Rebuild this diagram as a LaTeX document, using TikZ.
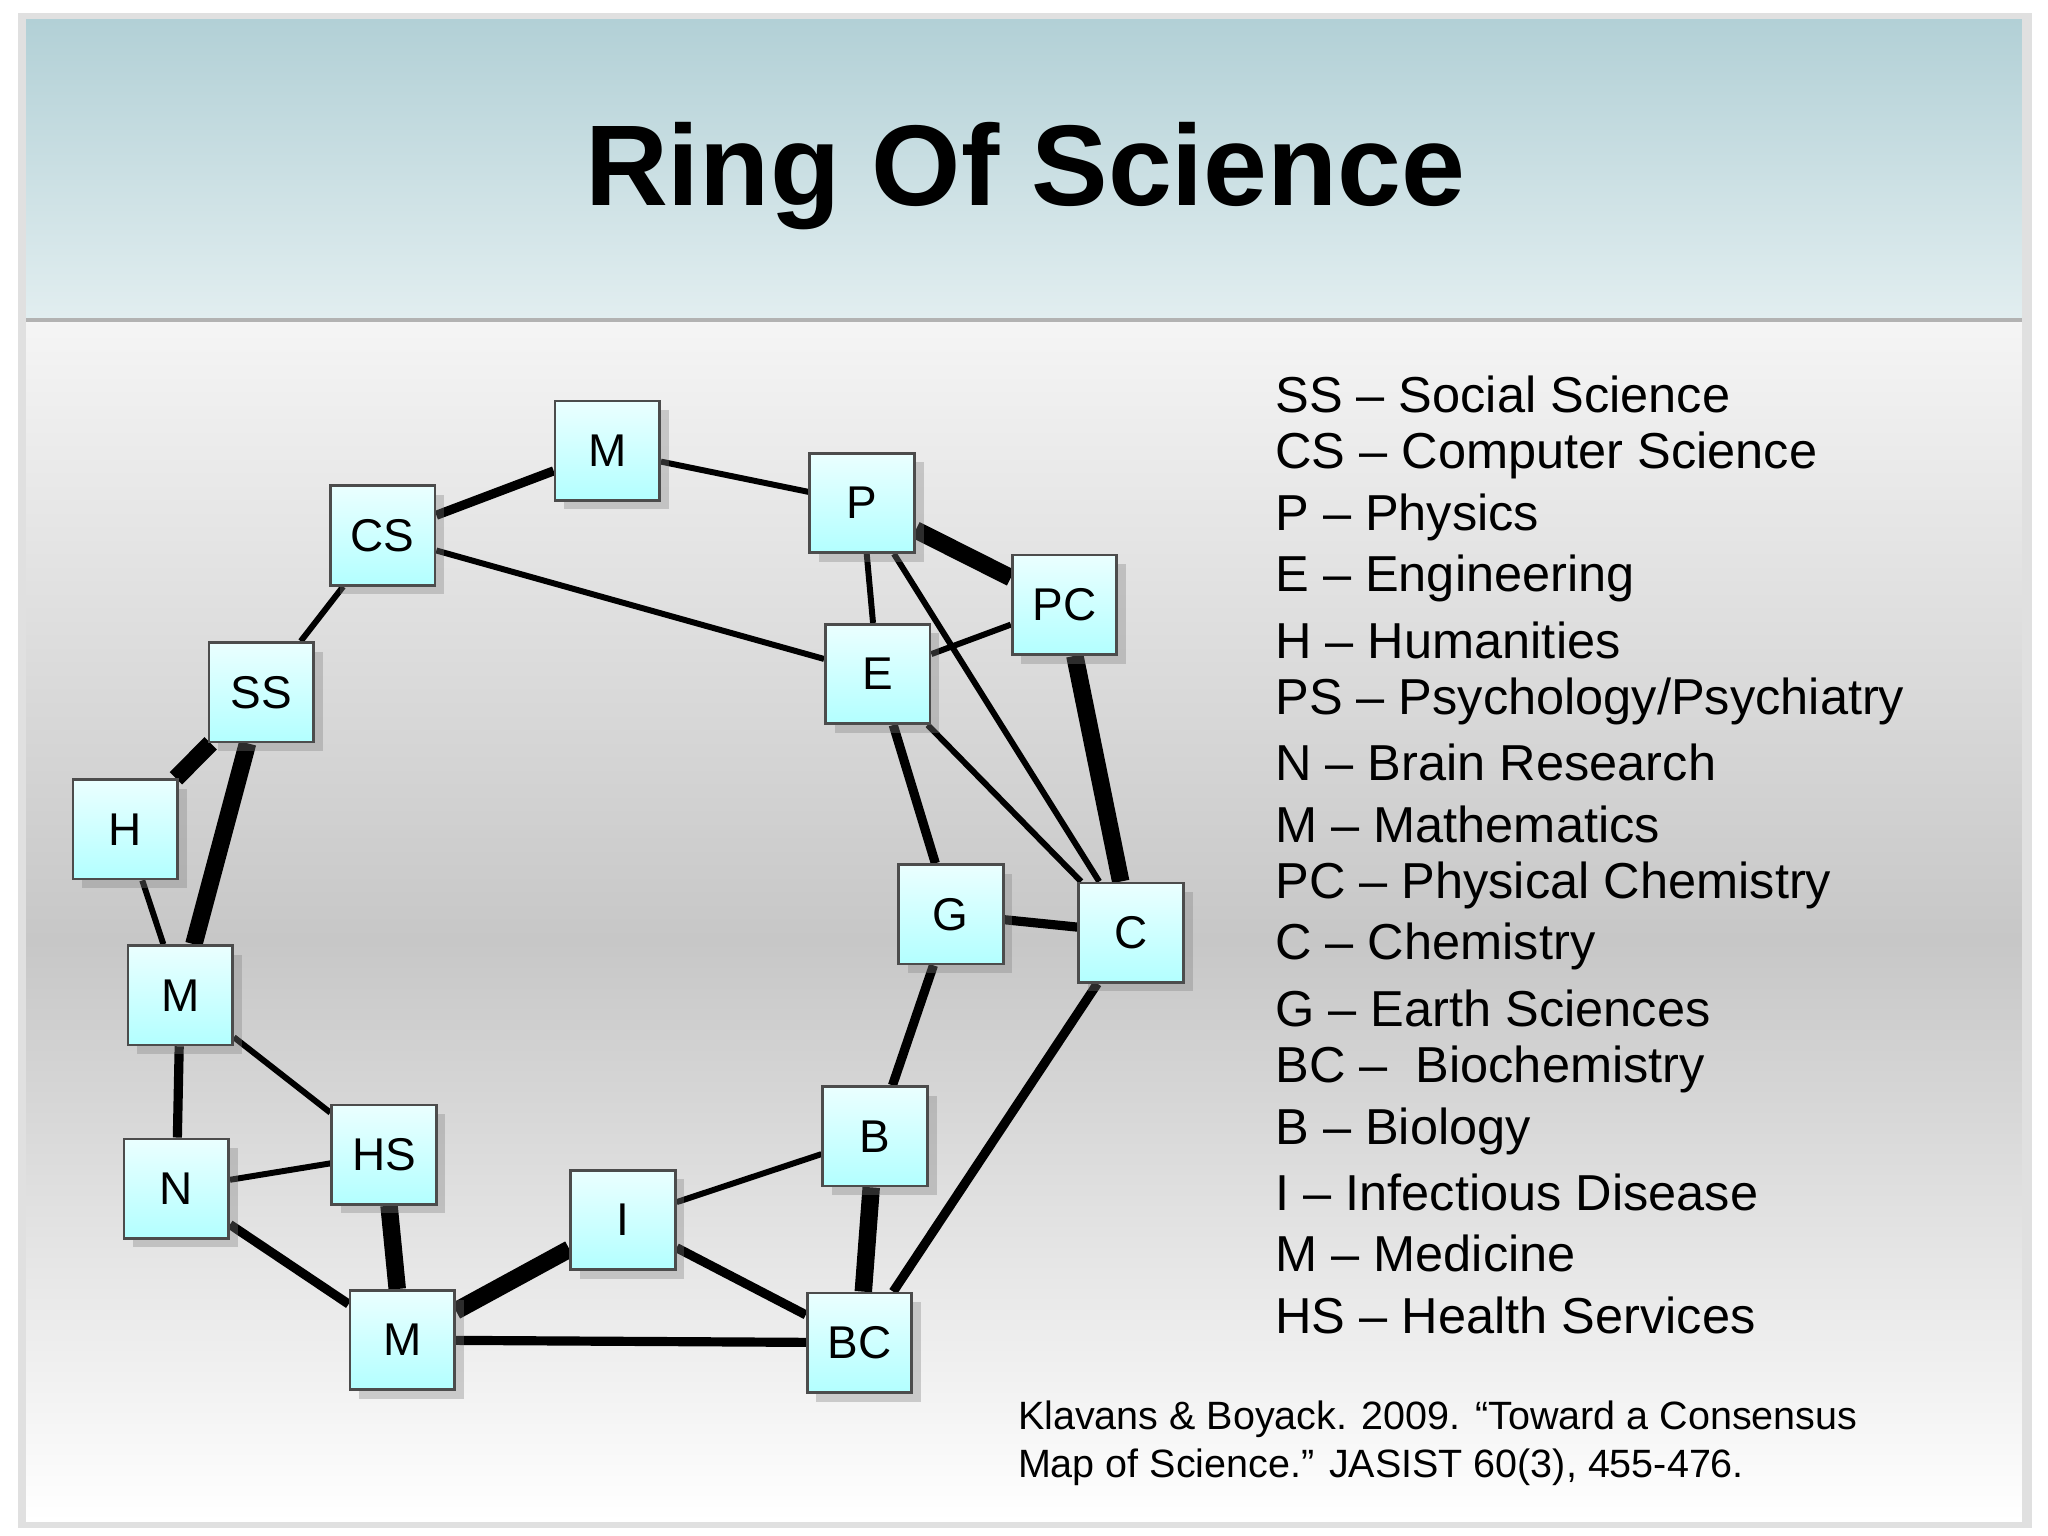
\documentclass[tikz,border=0pt]{standalone}
\usepackage{fontspec}
\setmainfont{Liberation Sans}
\usetikzlibrary{shadows}
\definecolor{hdtop}{RGB}{178,208,214}
\definecolor{hdbot}{RGB}{226,238,240}
\pgfdeclarelayer{bgl}\pgfdeclarelayer{edl}
\pgfsetlayers{bgl,edl,main}
\begin{document}
\begin{tikzpicture}[x=0.01cm,y=-0.01cm,
  box/.style={draw=black!70,line width=0.6pt,top color=cyan!8,bottom color=cyan!30,minimum width=0.8cm,minimum height=0.76cm,font=\fontsize{10}{12}\selectfont,drop shadow={opacity=0.35,shadow xshift=2pt,shadow yshift=-2pt}},
  thin/.style={line width=1.3pt},
  med/.style={line width=2pt},
  thick/.style={line width=3.8pt},
  leg/.style={anchor=west,font=\fontsize{11}{13}\selectfont}]
\useasboundingbox (0,0) rectangle (1568,1176);
\begin{pgfonlayer}{bgl}
\fill[white] (0,0) rectangle (1568,1176);
\fill[black!12] (14,10) rectangle (1556,1170);
\shade[top color=black!4,bottom color=black!22] (20,245) rectangle (1548,720);
\shade[top color=black!22,bottom color=white] (20,720) rectangle (1548,1165);
\shade[top color=hdtop,bottom color=hdbot] (20,15) rectangle (1548,245);
\draw[black!30,line width=1pt] (20,245) -- (1548,245);
\end{pgfonlayer}
\node[font=\fontsize{25}{30}\selectfont\bfseries] (title) at (785,135) {Ring Of Science};
\node[box] (Mt) at (465,345) {M};
\node[box] (P) at (660,385) {P};
\node[box] (PC) at (815,463) {PC};
\node[box] (CS) at (293,410) {CS};
\node[box] (E) at (672,516) {E};
\node[box] (SS) at (200,530) {SS};
\node[box] (H) at (96,635) {H};
\node[box] (G) at (728,700) {G};
\node[box] (C) at (866,714) {C};
\node[box] (Ml) at (138,762) {M};
\node[box] (N) at (135,910) {N};
\node[box] (HS) at (294,884) {HS};
\node[box] (B) at (670,870) {B};
\node[box] (I) at (477,934) {I};
\node[box] (Mb) at (308,1026) {M};
\node[box] (BC) at (658,1028) {BC};
\begin{pgfonlayer}{edl}
\draw[med] (CS) -- (Mt);
\draw[thin] (Mt) -- (P);
\draw[thin] (CS) -- (E);
\draw[thick] (P) -- (PC);
\draw[thin] (P) -- (E);
\draw[thin] (P) -- (C);
\draw[thin] (PC) -- (E);
\draw[thick] (PC) -- (C);
\draw[thin] (E) -- (C);
\draw[med] (E) -- (G);
\draw[med] (G) -- (C);
\draw[med] (G) -- (B);
\draw[thin] (CS) -- (SS);
\draw[thick] (SS) -- (H);
\draw[thick] (SS) -- (Ml);
\draw[thin] (H) -- (Ml);
\draw[thin] (Ml) -- (HS);
\draw[med] (Ml) -- (N);
\draw[thin] (N) -- (HS);
\draw[med] (N) -- (Mb);
\draw[thick] (HS) -- (Mb);
\draw[thick] (Mb) -- (I);
\draw[thin] (I) -- (B);
\draw[med] (I) -- (BC);
\draw[med] (Mb) -- (BC);
\draw[thick] (B) -- (BC);
\draw[med] (BC) -- (C);
\end{pgfonlayer}
\node[leg] (l1) at (964,302) {SS -- Social Science};
\node[leg] (l2) at (964,349) {CS -- Computer Science};
\node[leg] (l3) at (964,396) {P -- Physics};
\node[leg] (l4) at (964,443) {E -- Engineering};
\node[leg] (l5) at (964,490) {H -- Humanities};
\node[leg] (l6) at (964,537) {PS -- Psychology/Psychiatry};
\node[leg] (l7) at (964,584) {N -- Brain Research};
\node[leg] (l8) at (964,631) {M -- Mathematics};
\node[leg] (l9) at (964,678) {PC -- Physical Chemistry};
\node[leg] (l10) at (964,725) {C -- Chemistry};
\node[leg] (l11) at (964,772) {G -- Earth Sciences};
\node[leg] (l12) at (964,819) {BC --\ \ Biochemistry};
\node[leg] (l13) at (964,866) {B -- Biology};
\node[leg] (l14) at (964,913) {I -- Infectious Disease};
\node[leg] (l15) at (964,960) {M -- Medicine};
\node[leg] (l16) at (964,1007) {HS -- Health Services};
\node[anchor=north west,align=left,font=\fontsize{8.6}{10.4}\selectfont] (cite) at (767,1060) {Klavans \& Boyack. 2009. “Toward a Consensus\\Map of Science.” JASIST 60(3), 455-476.};
\end{tikzpicture}
\end{document}
